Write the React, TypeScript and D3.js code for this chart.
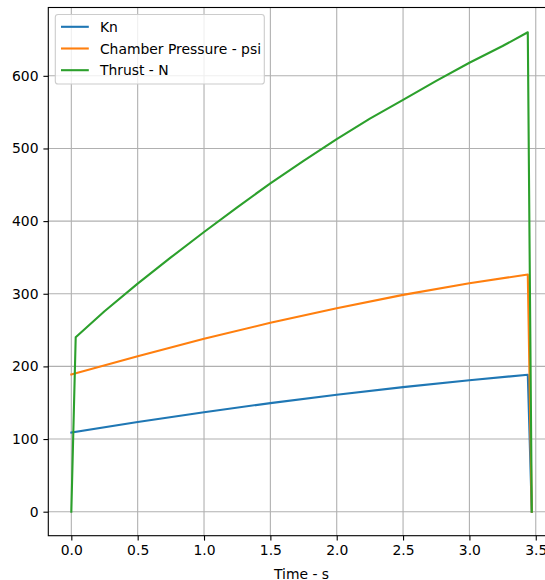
import React, { useEffect, useRef } from 'react';
import * as d3 from 'd3';

// burn time samples (s)
const burnTime = [0, 0.5, 1.0, 1.5, 2.0, 2.5, 3.0, 3.44, 3.47];
const knValues = [109, 123.5, 137, 149.5, 161, 171.5, 181, 188.5, 0];
const pressureValues = [189, 214, 238, 260, 280, 298.5, 314.5, 326.5, 0];

const thrustTime = [0, 0.033, 0.25, 0.5, 0.75, 1.0, 1.25, 1.5, 1.75, 2.0, 2.25, 2.5, 2.75, 3.0, 3.25, 3.44, 3.47];
const thrustValues = [0, 240, 276, 314, 350, 385, 419, 452, 483, 513, 541, 567, 593, 618, 641, 660, 0];

const xTicks = [0, 0.5, 1.0, 1.5, 2.0, 2.5, 3.0, 3.5];
const yTicks = [0, 100, 200, 300, 400, 500, 600];

const seriesNames = ['Kn', 'Chamber Pressure - psi', 'Thrust - N'];
const colors = ['#1f77b4', '#ff7f0e', '#2ca02c'];

export default function App() {
  const ref = useRef<SVGSVGElement>(null);

  useEffect(() => {
    const svg = d3.select(ref.current);
    svg.selectAll('*').remove();

    const left = 48.3;
    const right = 554.8;
    const top = 7.5;
    const bottom = 535.7;
    const fs = 13.9;
    const tickLen = 4.9;

    const x = d3.scaleLinear().domain([-0.1735, 3.6435]).range([left, right]);
    const y = d3.scaleLinear().domain([-33.05, 694.05]).range([bottom, top]);

    const series = [
      burnTime.map((t, i) => [t, knValues[i]]),
      burnTime.map((t, i) => [t, pressureValues[i]]),
      thrustTime.map((t, i) => [t, thrustValues[i]]),
    ];

    const g = svg.append('g');

    // grid
    g.selectAll('.gx')
      .data(xTicks)
      .join('line')
      .attr('x1', d => x(d))
      .attr('x2', d => x(d))
      .attr('y1', top)
      .attr('y2', bottom)
      .attr('stroke', '#b0b0b0')
      .attr('stroke-width', 1.1);
    g.selectAll('.gy')
      .data(yTicks)
      .join('line')
      .attr('x1', left)
      .attr('x2', right)
      .attr('y1', d => y(d))
      .attr('y2', d => y(d))
      .attr('stroke', '#b0b0b0')
      .attr('stroke-width', 1.1);

    const line = d3
      .line<number[]>()
      .x(d => x(d[0]))
      .y(d => y(d[1]));

    series.forEach((s, i) => {
      g.append('path')
        .attr('d', line(s))
        .attr('fill', 'none')
        .attr('stroke', colors[i])
        .attr('stroke-width', 2.1)
        .attr('stroke-linejoin', 'round')
        .attr('stroke-linecap', 'square');
    });

    // frame
    g.append('rect')
      .attr('x', left)
      .attr('y', top)
      .attr('width', right - left)
      .attr('height', bottom - top)
      .attr('fill', 'none')
      .attr('stroke', '#000')
      .attr('stroke-width', 1.1);

    // axes
    const xAxis = d3
      .axisBottom(x)
      .tickValues(xTicks)
      .tickFormat(d3.format('.1f'))
      .tickSize(tickLen)
      .tickPadding(4.9);
    const yAxis = d3
      .axisLeft(y)
      .tickValues(yTicks)
      .tickFormat(d3.format('d'))
      .tickSize(tickLen)
      .tickPadding(4.9);

    const gx = g.append('g').attr('transform', `translate(0, ${bottom})`).call(xAxis);
    const gy = g.append('g').attr('transform', `translate(${left}, 0)`).call(yAxis);
    [gx, gy].forEach(a => {
      a.select('.domain').remove();
      a.selectAll('.tick line').attr('stroke', '#000').attr('stroke-width', 1.1);
      a.selectAll('.tick text')
        .attr('fill', '#000')
        .style('font-family', 'DejaVu Sans')
        .style('font-size', `${fs}px`);
    });

    g.append('text')
      .attr('x', (left + right) / 2)
      .attr('y', 578.5)
      .attr('text-anchor', 'middle')
      .style('font-family', 'DejaVu Sans')
      .style('font-size', `${fs}px`)
      .text('Time - s');

    // legend
    const legend = g.append('g');
    legend
      .append('rect')
      .attr('x', 55.3)
      .attr('y', 14.5)
      .attr('width', 209)
      .attr('height', 69.5)
      .attr('rx', 2.8)
      .attr('fill', 'white')
      .attr('fill-opacity', 0.8)
      .attr('stroke', '#cccccc')
      .attr('stroke-width', 1.1);
    seriesNames.forEach((name, i) => {
      const ry = 26.8 + i * 21.7;
      legend
        .append('line')
        .attr('x1', 61)
        .attr('x2', 88.8)
        .attr('y1', ry)
        .attr('y2', ry)
        .attr('stroke', colors[i])
        .attr('stroke-width', 2.1);
      legend
        .append('text')
        .attr('x', 99.9)
        .attr('y', ry)
        .attr('dy', '0.36em')
        .style('font-family', 'DejaVu Sans')
        .style('font-size', `${fs}px`)
        .text(name);
    });
  }, []);

  return (
    <svg
      ref={ref}
      width={545}
      height={580}
      style={{ position: 'absolute', left: 0, top: 0, background: 'white' }}
    />
  );
}
